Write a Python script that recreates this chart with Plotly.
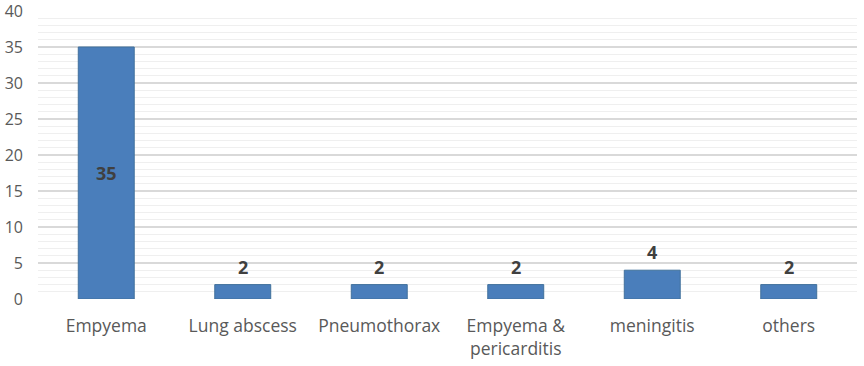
import plotly.graph_objects as go

categories = ["Empyema", "Lung abscess", "Pneumothorax", "Empyema &<br>pericarditis", "meningitis", "others"]
values = [35, 2, 2, 2, 4, 2]
y_ticks = [0, 5, 10, 15, 20, 25, 30, 35, 40]

FONT = "Open Sans"
fig = go.Figure()
fig.add_trace(go.Bar(
    x=categories, y=values, width=0.41,
    marker=dict(color="#4a7ebb", line=dict(color="#41719c", width=1)),
    hoverinfo="skip",
))

annotations = []
for c, v in zip(categories, values):
    if v >= 10:
        annotations.append(dict(x=c, y=v / 2, text=f"<b>{v}</b>", showarrow=False,
                                yanchor="middle", font=dict(family=FONT, size=18, color="#404040")))
    else:
        annotations.append(dict(x=c, y=v, text=f"<b>{v}</b>", showarrow=False,
                                yanchor="bottom", yshift=4, font=dict(family=FONT, size=18, color="#404040")))

fig.update_layout(
    width=864, height=366,
    margin=dict(l=38, r=7, t=11, b=67),
    plot_bgcolor="white", paper_bgcolor="white",
    showlegend=False, bargap=0.59,
    annotations=annotations,
    xaxis=dict(
        type="category", showgrid=False, zeroline=False, automargin=False,
        showline=False, ticklabeloverflow="allow",
        ticks="outside", ticklen=11, tickcolor="rgba(0,0,0,0)",
        tickfont=dict(family=FONT, size=17.5, color="#595959"),
    ),
    yaxis=dict(
        range=[0, 40], tickvals=y_ticks, showline=False, zeroline=False, automargin=False,
        ticklabeloverflow="allow",
        gridcolor="#d9d9d9", gridwidth=1.5,
        minor=dict(dtick=1, showgrid=True, gridcolor="#efefef", gridwidth=1),
        ticks="", ticklabelstandoff=14,
        tickfont=dict(family=FONT, size=16, color="#595959"),
    ),
)
fig.write_html("out.html", config={"displayModeBar": False},
               post_script="document.body.style.margin='0';")
